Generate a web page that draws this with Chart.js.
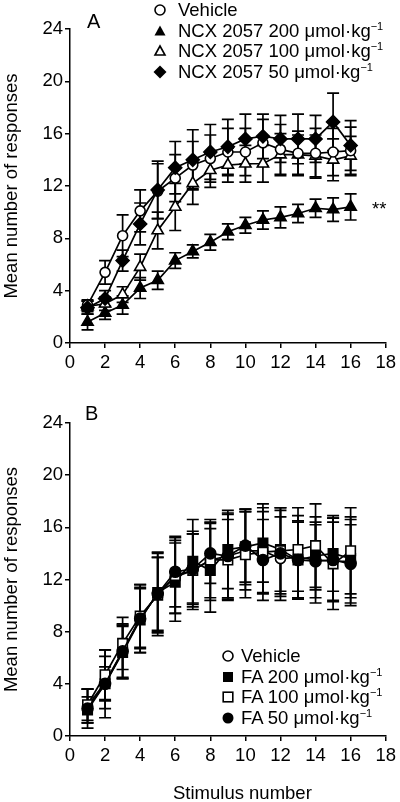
<!DOCTYPE html>
<html>
<head>
<meta charset="utf-8">
<script src="https://cdn.jsdelivr.net/npm/chart.js@4.4.0/dist/chart.umd.min.js"></script>
<style>
body { margin: 0; background: #fff; font-family: "Liberation Sans", Arial, sans-serif; color: #000; }
#page { position: relative; width: 400px; height: 802px; overflow: hidden; }
.panel { position: absolute; left: 0; width: 400px; }
.lbl { position: absolute; font-size: 18.5px; line-height: 1; white-space: nowrap; }
.big { font-size: 20px; }
.leg { position: absolute; font-size: 18.5px; white-space: nowrap; }
.leg .row { height: 20.6px; display: flex; align-items: center; }
.leg svg { width: 14px; height: 14px; flex: none; }
sup { font-size: 11px; line-height: 0; vertical-align: 7px; }
</style>
</head>
<body>
<div id="page">
  <div class="panel" style="top:0;height:392px"><canvas id="chartA" width="400" height="392"></canvas></div>
  <div class="panel" style="top:392px;height:410px"><canvas id="chartB" width="400" height="410"></canvas></div>

  <div class="lbl big" style="left:87px;top:11px">A</div>
  <div class="lbl big" style="left:85px;top:403px">B</div>
  <div class="lbl" style="left:372px;top:200px">**</div>
  <div class="lbl" style="left:173px;top:784px">Stimulus number</div>

  <div class="leg" style="left:153px;top:0px">
    <div class="row"><svg viewBox="0 0 14 14"><circle cx="7" cy="7" r="5" fill="#fff" stroke="#000" stroke-width="1.6"/></svg><span style="margin-left:11px">Vehicle</span></div>
    <div class="row"><svg viewBox="0 0 14 14"><polygon points="7,1.5 12.5,11.5 1.5,11.5" fill="#000"/></svg><span style="margin-left:11px">NCX 2057 200 μmol·kg<sup>−1</sup></span></div>
    <div class="row"><svg viewBox="0 0 14 14"><polygon points="7,2 12,11 2,11" fill="#fff" stroke="#000" stroke-width="1.6"/></svg><span style="margin-left:11px">NCX 2057 100 μmol·kg<sup>−1</sup></span></div>
    <div class="row"><svg viewBox="0 0 14 14"><polygon points="7,0.5 13.5,7 7,13.5 0.5,7" fill="#000"/></svg><span style="margin-left:11px">NCX 2057 50 μmol·kg<sup>−1</sup></span></div>
  </div>

  <div class="leg" style="left:221px;top:646px">
    <div class="row"><svg viewBox="0 0 14 14"><circle cx="7" cy="7" r="5" fill="#fff" stroke="#000" stroke-width="1.6"/></svg><span style="margin-left:6px">Vehicle</span></div>
    <div class="row"><svg viewBox="0 0 14 14"><rect x="2" y="2" width="10" height="10" fill="#000"/></svg><span style="margin-left:6px">FA 200 μmol·kg<sup>−1</sup></span></div>
    <div class="row"><svg viewBox="0 0 14 14"><rect x="2.2" y="2.2" width="9.6" height="9.6" fill="#fff" stroke="#000" stroke-width="1.6"/></svg><span style="margin-left:6px">FA 100 μmol·kg<sup>−1</sup></span></div>
    <div class="row"><svg viewBox="0 0 14 14"><circle cx="7" cy="7" r="5.5" fill="#000"/></svg><span style="margin-left:6px">FA 50 μmol·kg<sup>−1</sup></span></div>
  </div>
</div>

<script>
const FONT = '"Liberation Sans", Arial, sans-serif';

const stimulus = [1, 2, 3, 4, 5, 6, 7, 8, 9, 10, 11, 12, 13, 14, 15, 16];
const xTicks = [0, 2, 4, 6, 8, 10, 12, 14, 16, 18];
const yTicks = [0, 4, 8, 12, 16, 20, 24];

// Panel A: NCX 2057
const vehicleA    = [2.9, 5.4, 8.2, 10.1, 11.6, 12.6, 13.6, 14.1, 14.6, 14.6, 15.3, 14.8, 14.5, 14.5, 14.6, 14.7];
const vehicleAErr = [0.4, 0.9, 1.6, 1.6, 2.1, 1.8, 1.8, 1.8, 1.8, 1.8, 1.8, 1.9, 1.7, 1.9, 1.8, 1.8];
const ncx200    = [1.6, 2.3, 2.9, 4.2, 4.8, 6.3, 7.0, 7.7, 8.5, 9.0, 9.4, 9.6, 9.9, 10.3, 10.2, 10.4];
const ncx200Err = [0.6, 0.5, 0.7, 0.8, 0.7, 0.6, 0.5, 0.6, 0.6, 0.6, 0.7, 0.8, 0.7, 0.7, 0.9, 1.0];
const ncx100    = [2.8, 3.0, 3.7, 5.8, 8.6, 10.4, 12.2, 13.2, 13.6, 13.7, 13.7, 14.4, 14.4, 14.3, 14.0, 14.3];
const ncx100Err = [0.4, 0.5, 0.6, 1.0, 1.4, 1.8, 1.6, 1.3, 1.3, 1.4, 1.4, 1.6, 1.5, 1.6, 1.6, 1.5];
const ncx50    = [2.7, 3.4, 6.3, 9.1, 11.7, 13.4, 14.0, 14.6, 15.0, 15.6, 15.8, 15.6, 15.6, 15.6, 16.9, 15.1];
const ncx50Err = [0.5, 0.6, 0.8, 1.6, 2.2, 2.0, 2.3, 2.1, 2.1, 1.9, 1.7, 1.8, 1.9, 1.8, 2.2, 1.9];

// Panel B: FA
const vehicleB    = [2.3, 4.1, 6.5, 9.0, 10.9, 12.2, 12.7, 13.5, 13.8, 14.2, 14.2, 13.6, 13.7, 13.5, 13.4, 13.4];
const vehicleBErr = [1.3, 2.0, 2.0, 2.3, 2.8, 2.8, 3.0, 2.9, 3.3, 3.0, 3.3, 3.2, 3.2, 3.3, 3.0, 3.4];
const fa200    = [2.0, 4.0, 6.4, 8.9, 11.0, 11.8, 13.4, 12.7, 14.3, 14.5, 14.8, 14.3, 13.5, 13.8, 14.0, 13.6];
const fa200Err = [1.0, 1.3, 2.0, 2.5, 3.0, 3.0, 3.2, 3.2, 3.0, 2.9, 3.0, 3.2, 2.9, 2.6, 2.9, 3.0];
const fa100    = [2.4, 4.7, 7.1, 9.2, 10.8, 12.3, 12.7, 13.5, 13.5, 13.9, 14.1, 14.2, 14.3, 14.6, 13.2, 14.2];
const fa100Err = [1.2, 1.9, 2.0, 2.4, 2.9, 2.9, 2.8, 3.1, 3.1, 3.3, 3.1, 3.3, 3.2, 3.2, 3.5, 3.3];
const fa50    = [2.1, 4.0, 6.5, 9.0, 10.9, 12.6, 12.8, 14.0, 13.8, 14.6, 13.5, 14.0, 13.5, 13.4, 13.5, 13.2];
const fa50Err = [1.5, 2.6, 2.1, 2.6, 3.2, 2.7, 2.7, 2.3, 3.2, 2.8, 3.1, 3.3, 3.0, 2.8, 3.2, 3.0];

// draws mean ± error whiskers behind the markers
const errorBars = {
    id: 'errorBars',
    beforeDatasetsDraw(chart) {
        const { ctx, scales: { x, y } } = chart;
        ctx.save();
        ctx.strokeStyle = '#000';
        ctx.lineWidth = 1.7;
        chart.data.datasets.forEach(ds => {
            if (!ds.errors) return;
            ds.data.forEach((p, j) => {
                const px = x.getPixelForValue(p.x);
                const top = y.getPixelForValue(p.y + ds.errors[j]);
                const bot = y.getPixelForValue(p.y - ds.errors[j]);
                ctx.beginPath();
                ctx.moveTo(px, top); ctx.lineTo(px, bot);
                ctx.moveTo(px - 6, top); ctx.lineTo(px + 6, top);
                ctx.moveTo(px - 6, bot); ctx.lineTo(px + 6, bot);
                ctx.stroke();
            });
        });
        ctx.restore();
    }
};

function series(values, errors, style, radius, fill) {
    return {
        data: stimulus.map((s, i) => ({ x: s, y: values[i] })),
        errors: errors,
        borderColor: '#000',
        borderWidth: 1.7,
        pointStyle: style,
        pointRadius: radius,
        pointBackgroundColor: fill,
        pointBorderColor: '#000',
        pointBorderWidth: 1.6,
        tension: 0
    };
}

function makeChart(id, datasets, padTop, xHeight) {
    new Chart(document.getElementById(id), {
        type: 'line',
        data: { datasets: datasets },
        plugins: [errorBars],
        options: {
            responsive: false,
            animation: false,
            layout: { padding: { top: padTop, right: 14, left: 0, bottom: 0 } },
            plugins: { legend: { display: false }, tooltip: { enabled: false } },
            scales: {
                x: {
                    type: 'linear', min: 0, max: 18,
                    afterBuildTicks: s => { s.ticks = xTicks.map(v => ({ value: v })); },
                    ticks: { color: '#000', font: { size: 18.5, family: FONT }, padding: 4, maxRotation: 0, autoSkip: false },
                    grid: { drawOnChartArea: false, tickLength: 5, color: '#000', lineWidth: 1.5 },
                    border: { color: '#000', width: 1.5 },
                    afterFit: s => { s.height = xHeight; }
                },
                y: {
                    min: 0, max: 24,
                    afterBuildTicks: s => { s.ticks = yTicks.map(v => ({ value: v })); },
                    ticks: { color: '#000', font: { size: 18.5, family: FONT }, padding: 2 },
                    grid: { drawOnChartArea: false, tickLength: 5, color: '#000', lineWidth: 1.5 },
                    border: { color: '#000', width: 1.5 },
                    title: { display: true, text: 'Mean number of responses', color: '#000', font: { size: 18.5, family: FONT }, padding: 1 },
                    afterFit: s => { s.width = 70; }
                }
            }
        }
    });
}

makeChart('chartA', [
    series(ncx50, ncx50Err, 'rectRot', 6.5, '#000'),
    series(vehicleA, vehicleAErr, 'circle', 5, '#fff'),
    series(ncx100, ncx100Err, 'triangle', 6.5, '#fff'),
    series(ncx200, ncx200Err, 'triangle', 6.5, '#000')
], 29, 49);

makeChart('chartB', [
    series(fa50, fa50Err, 'circle', 5.5, '#000'),
    series(fa100, fa100Err, 'rect', 6.7, '#fff'),
    series(fa200, fa200Err, 'rect', 6.7, '#000'),
    series(vehicleB, vehicleBErr, 'circle', 5, '#fff')
], 31, 66);
</script>
</body>
</html>
